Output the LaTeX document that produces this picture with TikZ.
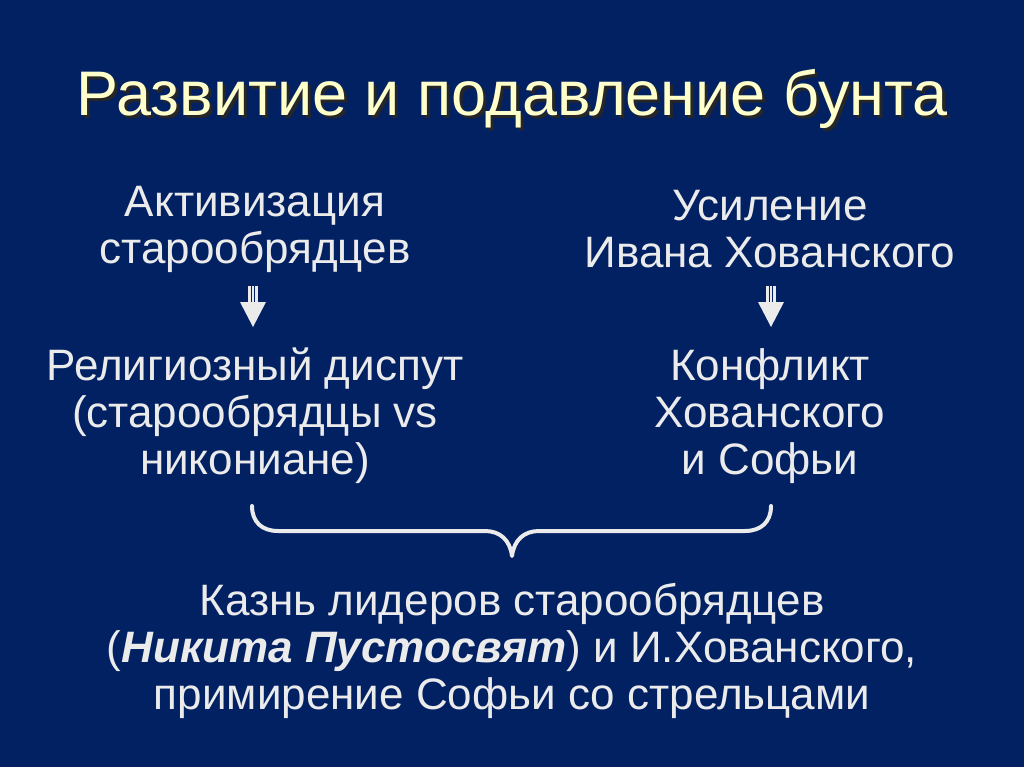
\documentclass[tikz,border=0pt]{standalone}
\usepackage{fontspec}
\setmainfont{Liberation Sans}
\definecolor{bg}{HTML}{012163}
\definecolor{titlec}{HTML}{FFFFCC}
\definecolor{txt}{HTML}{EBEBEB}
\newcommand{\shadowed}[1]{\rlap{\hspace{3pt}\raisebox{-3pt}{\color{black!85}#1}}#1}
\tikzset{
  body/.style={text=txt, align=center, font=\fontsize{44}{47}\selectfont, inner sep=0pt},
  stripearrow/.style={fill=txt, draw=none},
  bracec/.style={draw=txt, line width=4pt, line cap=round, line join=round}
}
\begin{document}
\begin{tikzpicture}[x=1pt,y=-1pt]
\fill[bg] (0,0) rectangle (1024,767);
\useasboundingbox (0,0) rectangle (1024,767);
% title with shadow
\node[text=titlec, font=\fontsize{63}{70}\selectfont, inner sep=0pt] (title) at (512,100) {\shadowed{Развитие и подавление бунта}};
% columns
\node[body] (a1) at (255,229) {Активизация\\старообрядцев};
\node[body] (b1) at (770,229) {Усиление\\Ивана Хованского};
\node[body] (a2) at (255,416) {Религиозный диспут\\(старообрядцы vs\\никониане)};
\node[body] (b2) at (770,416) {Конфликт\\Хованского\\и Софьи};
\node[body] (c) at (512,651) {Казнь лидеров старообрядцев\\(\textbf{\textit{Никита Пустосвят}}) и И.Хованского,\\примирение Софьи со стрельцами};
% striped arrows
\foreach \cx/\nm in {253/la,771/ra}{
  \coordinate (\nm) at (\cx,286);
  \fill[stripearrow] (\cx-5,286) rectangle (\cx+5,303);
  \draw[bg, line width=1.2pt] (\cx-1.7,286) -- (\cx-1.7,303) (\cx+1.7,286) -- (\cx+1.7,303);
  \fill[stripearrow] (\cx-13,302) -- (\cx+13,302) -- (\cx,327) -- cycle;
}
% brace
\draw[bracec] (252,506) .. controls (252,522) and (262,531) .. (278,531)
  -- (485,531) .. controls (500,531) and (510,540) .. (512,556)
  .. controls (514,540) and (524,531) .. (539,531)
  -- (745,531) .. controls (761,531) and (771,522) .. (771,506);
\end{tikzpicture}
\end{document}
